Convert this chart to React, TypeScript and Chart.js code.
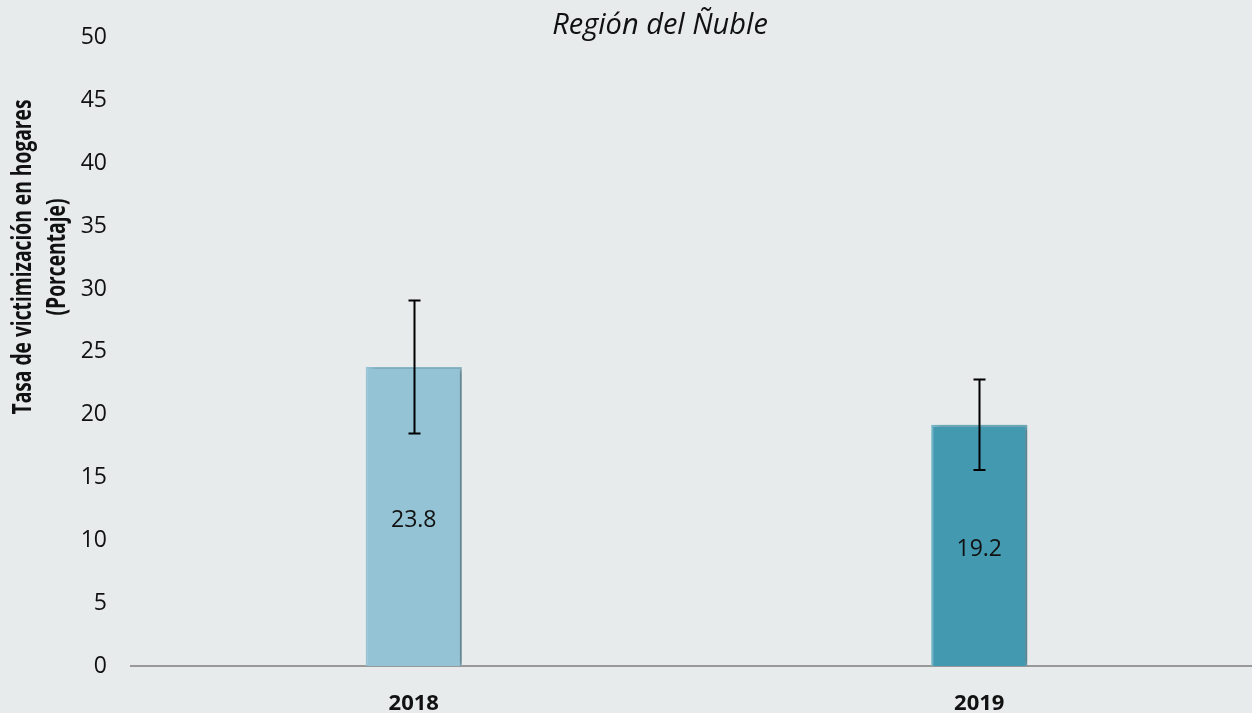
import React, { useEffect, useRef } from "react";
import { Chart, registerables } from "chart.js";

Chart.register(...registerables);

const categories = ["2018", "2019"];
const values = [23.8, 19.2];
const errLow = [18.5, 15.6];
const errHigh = [29.1, 22.8];
const yTicks = [0, 5, 10, 15, 20, 25, 30, 35, 40, 45, 50];
const barColors = ["#93C3D5", "#4399B0"];
const barBorders = ["#93C3D5", "#72B6C8"];
const titleText = "Región del Ñuble";
const yTitleLines = ["Tasa de victimización en hogares", "(Porcentaje)"];

const FONT = "'Open Sans', 'Noto Sans', sans-serif";

const shadowPlugin = {
  id: "barShadow",
  beforeDatasetDraw(chart: any) {
    const ctx = chart.ctx;
    ctx.save();
    ctx.shadowColor = "rgba(0,0,0,0.35)";
    ctx.shadowBlur = 5;
    ctx.shadowOffsetX = 4;
    ctx.shadowOffsetY = 0;
  },
  afterDatasetDraw(chart: any) {
    chart.ctx.restore();
  },
};

const extrasPlugin = {
  id: "extras",
  afterDatasetsDraw(chart: any) {
    const ctx = chart.ctx;
    const meta = chart.getDatasetMeta(0);
    const y = chart.scales.y;
    ctx.save();
    // error bars
    ctx.strokeStyle = "#000";
    ctx.lineWidth = 2;
    meta.data.forEach((bar: any, i: number) => {
      const x = Math.round(bar.x) + 0.5;
      const yT = y.getPixelForValue(errHigh[i]);
      const yB = y.getPixelForValue(errLow[i]);
      ctx.beginPath();
      ctx.moveTo(x, yT);
      ctx.lineTo(x, yB);
      ctx.moveTo(x - 6, yT);
      ctx.lineTo(x + 6, yT);
      ctx.moveTo(x - 6, yB);
      ctx.lineTo(x + 6, yB);
      ctx.stroke();
    });
    // value labels
    ctx.fillStyle = "#111";
    ctx.font = `23px ${FONT}`;
    ctx.textAlign = "center";
    ctx.textBaseline = "middle";
    meta.data.forEach((bar: any, i: number) => {
      const mid = (bar.y + bar.base) / 2 + 4;
      ctx.fillText(values[i].toFixed(1), bar.x, mid);
    });
    // title
    ctx.font = `italic 29px ${FONT}`;
    ctx.fillStyle = "#111";
    ctx.fillText(titleText, 660, 26);
    // y title
    ctx.font = `bold 26px ${FONT}`;
    ctx.translate(0, 257);
    ctx.rotate(-Math.PI / 2);
    const w1 = ctx.measureText(yTitleLines[0]).width;
    const sx = 315 / w1;
    ctx.scale(sx, 1);
    ctx.fillText(yTitleLines[0], 0, 24);
    ctx.fillText(yTitleLines[1], 0, 58);
    ctx.restore();
  },
};

export default function App() {
  const ref = useRef<HTMLCanvasElement>(null);
  useEffect(() => {
    if (!ref.current) return;
    const chart = new Chart(ref.current, {
      type: "bar",
      data: {
        labels: categories,
        datasets: [
          {
            data: values,
            backgroundColor: barColors,
            borderColor: barBorders,
            borderWidth: 2,
            categoryPercentage: 1,
            barPercentage: 0.17,
          },
        ],
      },
      options: {
        animation: false,
        responsive: false,
        events: [],
        layout: { padding: { top: 33, left: 0, right: 0, bottom: 0 } },
        plugins: {
          legend: { display: false },
          tooltip: { enabled: false },
          title: { display: false },
        },
        scales: {
          y: {
            min: 0,
            max: 50,
            afterFit(scale: any) {
              scale.width = 131;
            },
            afterBuildTicks(scale: any) {
              scale.ticks = yTicks.map((v) => ({ value: v }));
            },
            grid: { display: false, drawTicks: false },
            border: { display: false },
            ticks: {
              padding: 24,
              color: "#111",
              font: { family: FONT, size: 23 },
            },
          },
          x: {
            afterFit(scale: any) {
              scale.height = 47;
            },
            grid: { display: false, drawTicks: false },
            border: { display: true, color: "#999", width: 2 },
            ticks: {
              padding: 25,
              color: "#111",
              font: { family: FONT, size: 22, weight: "bold" },
            },
          },
        },
      },
      plugins: [shadowPlugin, extrasPlugin],
    });
    return () => chart.destroy();
  }, []);
  return (
    <div
      style={{
        position: "fixed",
        left: 0,
        top: 0,
        width: 1252,
        height: 713,
        overflow: "hidden",
        background: "#E7EBEB",
      }}
    >
      <canvas ref={ref} width={1262} height={713} style={{ display: "block" }} />
    </div>
  );
}
